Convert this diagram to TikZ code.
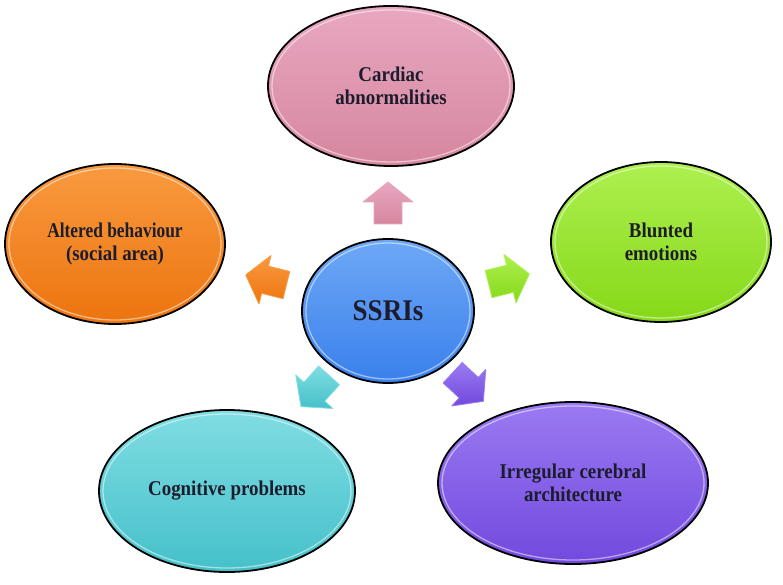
\documentclass[tikz,border=0pt]{standalone}
\usepackage{fontspec}
\setmainfont{Liberation Serif}
\newfontfamily\labfont[FakeStretch=0.9]{Liberation Serif}
\usetikzlibrary{shapes.geometric}
\definecolor{txt}{HTML}{1C1C2C}
\definecolor{pinkc}{HTML}{D6869F}
\definecolor{pinkL}{HTML}{E8A8C0}
\definecolor{orangec}{HTML}{EC740E}
\definecolor{orangeL}{HTML}{F99A40}
\definecolor{greenc}{HTML}{86D818}
\definecolor{greenL}{HTML}{ADF050}
\definecolor{cyanc}{HTML}{45C0C9}
\definecolor{cyanL}{HTML}{80DDE3}
\definecolor{purplec}{HTML}{7249DE}
\definecolor{purpleL}{HTML}{9A7AF2}
\definecolor{bluec}{HTML}{3A80EC}
\definecolor{blueL}{HTML}{6EA8F6}
\tikzset{
  bubble/.style={ellipse, draw=black, line width=1.8pt, inner sep=0pt, align=center,
    font=\labfont\bfseries\fontsize{21}{23}\selectfont, text=txt},
  bevel/.style={white, opacity=.5, line width=1.3pt},
  blockshape/.style={line width=.8pt, line join=round}
}
\newcommand{\blockarr}[5]{%
  \begin{scope}[shift={(#1,#2)}, rotate=#3]
    \draw[blockshape, draw=#5, top color=#5, bottom color=#4]
      (-21,-14) -- (1,-14) -- (1,-25) -- (21,0) -- (1,25) -- (1,14) -- (-21,14) -- cycle;
  \end{scope}}
\begin{document}
\begin{tikzpicture}[x=1pt,y=1pt]
\useasboundingbox (0,0) rectangle (783,584);
\fill[white] (0,0) rectangle (783,584);

% outer bubbles
\node[bubble, minimum width=246pt, minimum height=160pt, top color=pinkL, bottom color=pinkc] (card) at (391,498) {Cardiac\\abnormalities};
\draw[bevel] (card.center) ellipse [x radius=119pt, y radius=76pt];

\node[bubble, minimum width=220pt, minimum height=160pt, top color=orangeL, bottom color=orangec] (alt) at (115,340) {\scalebox{0.92}[1]{Altered behaviour}\\(social area)};
\draw[bevel] (alt.center) ellipse [x radius=106pt, y radius=76pt];

\node[bubble, minimum width=220pt, minimum height=160pt, top color=greenL, bottom color=greenc] (blu) at (661,342) {Blunted\\emotions};
\draw[bevel] (blu.center) ellipse [x radius=106pt, y radius=76pt];

\node[bubble, minimum width=256pt, minimum height=162pt, top color=cyanL, bottom color=cyanc] (cog) at (227,93) {Cognitive problems};
\draw[bevel] (cog.center) ellipse [x radius=124pt, y radius=77pt];

\node[bubble, minimum width=270pt, minimum height=162pt, top color=purpleL, bottom color=purplec] (irr) at (573,101) {Irregular cerebral\\architecture};
\draw[bevel] (irr.center) ellipse [x radius=131pt, y radius=77pt];

% centre
\node[bubble, minimum width=172pt, minimum height=144pt, top color=blueL, bottom color=bluec,
      font=\labfont\bfseries\fontsize{30}{34}\selectfont] (ssri) at (388,273) {SSRIs};
\draw[bevel] (ssri.center) ellipse [x radius=82pt, y radius=68pt];

% block arrows
\blockarr{388}{381}{90}{pinkc}{pinkL}
\blockarr{266}{304}{166}{orangec}{orangeL}
\blockarr{509}{305}{14}{greenc}{greenL}
\blockarr{315}{193}{228}{cyanc}{cyanL}
\blockarr{468}{197}{-43}{purplec}{purpleL}
\end{tikzpicture}
\end{document}
